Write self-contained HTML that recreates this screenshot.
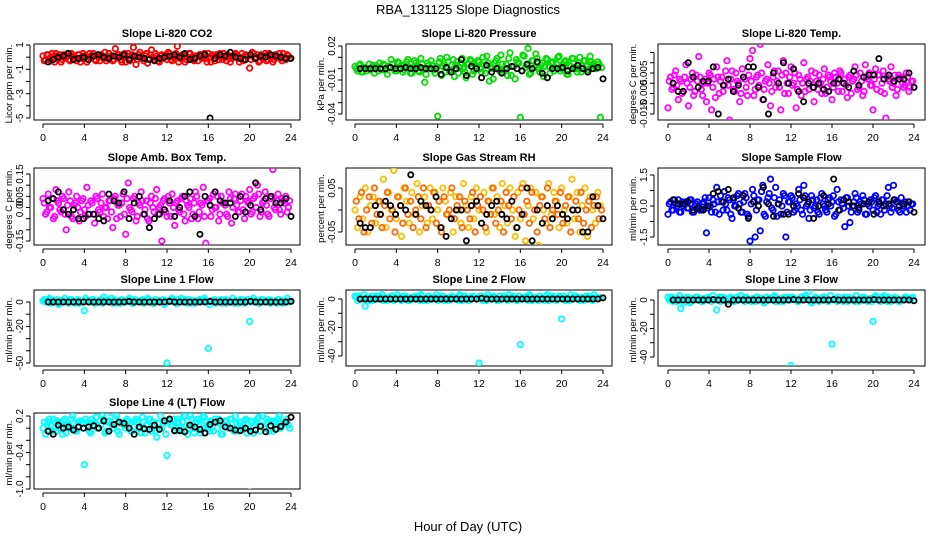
<!DOCTYPE html>
<html><head><meta charset="utf-8"><style>
html,body{margin:0;padding:0;background:#fff}
svg{display:block;font-family:"Liberation Sans",Arial,sans-serif}
</style></head><body>
<svg id="chart" width="936" height="540" viewBox="0 0 936 540" xmlns="http://www.w3.org/2000/svg">
<text x="468" y="14" font-size="13" text-anchor="middle">RBA_131125  Slope Diagnostics</text>
<text x="468" y="531" font-size="13" text-anchor="middle">Hour of Day (UTC)</text>
</svg>
<script>
const xTicks=[0,4,8,12,16,20,24];
const titles=["Slope Li-820 CO2","Slope Li-820 Pressure","Slope Li-820 Temp.","Slope Amb. Box Temp.","Slope Gas Stream RH","Slope Sample Flow","Slope Line 1 Flow","Slope Line 2 Flow","Slope Line 3 Flow","Slope Line 4 (LT) Flow"];
const yTitles=["Licor ppm per min.","kPa per min.","degrees C per min.","degrees C per min.","percent per min.","ml/min per min.","ml/min per min.","ml/min per min.","ml/min per min.","ml/min per min."];
const yTickVals=[[1,0,-1,-2,-3,-4,-5],[0.02,0.01,0,-0.01,-0.02,-0.03,-0.04],[0.015,0.01,0.005,0,-0.005,-0.01,-0.015],[0.15,0.1,0.05,0,-0.05,-0.1,-0.15],[0.05,0,-0.05],[1.5,0.75,0,-0.75,-1.5],[0,-10,-20,-30,-40,-50],[0,-10,-20,-30,-40],[0,-10,-20,-30,-40],[0.2,0,-0.2,-0.4,-0.6,-0.8,-1.0]];
const yTickLabels=[["1","","-1","","-3","","-5"],["0.02","","","-0.01","","","-0.04"],["","","0.005","","-0.005","","-0.015"],["0.15","","0.05","0.00","","","-0.15"],["0.05","","-0.05"],["1.5","","0.0","","-1.5"],["0","","-20","","","-50"],["0","","-20","","-40"],["0","","-20","","-40"],["0.2","","","-0.4","","","-1.0"]];

const c1=[0.1,-0.2,0.2,-0.3,0.0,0.3,-0.1,-0.4,0.2,0.1,-0.2,0.3,0.0,-0.3,0.2,-0.1,0.1,-0.4,0.3,0.0,-0.2,0.2,-0.3,0.1,0.4,-0.1,0.0,-0.3,0.7,0.2,-0.2,0.1,-0.4,0.3,-0.1,0.8,-0.6,0.2,0.0,-0.3,0.3,-0.1,0.6,-0.2,0.1,-0.4,0.2,0.0,-0.2,0.3,-0.3,0.1,0.9,-0.1,0.2,-0.4,0.0,0.3,-0.2,0.1,-0.3,0.2,0.0,-0.1,0.3,-0.4,0.1,0.2,-0.2,0.0,0.3,-0.3,0.1,-0.1,0.2,0.0,-0.4,0.3,-0.2,0.1,-0.9,0.4,-0.1,0.2,-0.3,0.0,0.3,-0.2,0.1,-0.4,0.2,0.0,-0.1,0.3,-0.2,0.1];
const c1b=[-0.3,0.2,-0.1,0.3,-0.4,0.1,0.2,-0.2,0.0,0.3,-0.3,0.1,-0.1,0.2,-0.4,0.3,0.0,-0.2,0.1,0.3,-0.3,0.0,0.2,-0.1,-0.3,0.3,0.1,-0.2,0.0,0.2,-0.4,0.3,0.1,-0.3,0.2,0.0,-0.2,0.4,-0.1,0.1,-0.5,0.2,0.0,0.3,-0.3,0.1,-0.1,0.2,0.4,-0.2,0.0,0.3,-0.4,0.1,0.2,-0.2,0.3,0.0,-0.3,0.1,0.2,-0.1,0.3,-0.4,0.0,0.2,-0.3,0.1,0.3,-0.2,0.0,0.2,-0.4,0.1,0.3,-0.1,0.0,-0.3,0.2,0.1,-0.2,0.3,0.0,-0.4,0.2,0.1,-0.3,0.3,0.0,-0.2,0.1,0.3,-0.3,0.0,0.2,-0.1];
const b1=[-0.4,-0.2,0.0,0.1,0.3,-0.2,-0.1,0.0,-0.2,0.1,0.2,0.0,-0.1,0.1,0.0,0.2,-0.2,0.1,0.0,-0.1,-0.2,-0.3,-0.1,0.0,0.1,0.2,0.0,0.3,-0.2,-0.1,0.1,0.2,-5.0,-0.1,0.2,0.1,0.4,0.0,-0.1,-0.2,0.2,-0.1,0.1,0.0,0.2,0.1,0.0,-0.1,-0.1];
const c2=[0.002,-0.002,0.004,-0.003,0.001,0.0,-0.001,0.003,0.002,-0.002,0.0,0.004,-0.001,0.002,0.008,0.0,-0.002,0.005,0.003,-0.001,0.006,0.001,-0.004,0.007,0.002,-0.003,0.004,-0.012,0.005,0.0,0.003,-0.004,-0.042,0.009,0.002,-0.003,0.006,-0.001,0.008,0.003,-0.004,0.005,0.0,-0.008,0.004,0.007,-0.002,0.001,0.006,-0.003,0.003,0.011,-0.011,0.0,0.005,0.009,-0.002,0.004,0.0,-0.006,0.014,0.002,-0.009,0.006,-0.043,0.012,0.001,0.018,-0.004,0.007,0.013,0.0,0.003,-0.007,0.009,0.002,0.005,-0.002,0.004,0.011,0.0,0.006,-0.005,0.003,0.009,0.001,-0.003,0.010,0.002,0.007,-0.001,0.011,0.004,0.002,0.006,-0.043];
const c2b=[0.0,0.003,-0.003,0.001,-0.002,0.004,0.0,-0.004,0.002,0.005,-0.001,0.003,-0.005,0.001,0.004,-0.002,0.006,0.0,-0.003,0.002,0.008,-0.004,0.001,0.005,-0.002,0.009,0.0,-0.005,0.003,0.007,-0.001,0.002,0.006,-0.006,0.004,0.010,-0.002,0.003,-0.007,0.006,0.001,0.009,-0.003,0.004,0.008,-0.005,0.002,0.007,0.0,0.010,-0.004,0.005,0.002,-0.009,0.007,0.001,0.012,-0.003,0.004,0.009,-0.006,0.002,0.008,0.005,-0.002,0.011,0.003,-0.005,0.007,0.001,0.009,-0.003,0.005,0.002,0.008,-0.004,0.006,0.001,0.010,-0.002,0.004,0.007,-0.005,0.002,0.009,0.0,0.005,-0.003,0.007,0.002,-0.001,0.006,0.003,0.0,0.004,0.001];
const b2=[0,0,0,0,0,0,0.001,0,0,0.001,0,0,0.001,0,0,0,-0.005,0.001,-0.003,0,0.008,-0.006,0.002,0,-0.008,0.003,-0.003,0,-0.004,0,0.002,0,-0.002,0.004,0,0.006,-0.004,-0.008,0,0,0.001,-0.002,0,0.003,0,-0.003,0,0.001,-0.009];
const c3=[-0.012,0.003,-0.002,0.006,-0.008,0.001,-0.004,0.009,-0.011,0.002,-0.006,0.004,0.013,-0.003,0.0,-0.009,0.005,-0.013,0.002,0.008,-0.005,0.003,-0.001,0.011,-0.018,0.006,-0.004,0.001,-0.009,0.007,0.002,-0.006,0.012,0.016,-0.003,0.004,0.019,-0.008,0.001,0.009,-0.011,0.003,-0.002,0.006,-0.013,0.011,0.005,-0.005,0.008,0.0,-0.012,0.004,-0.006,0.010,0.002,-0.003,0.006,-0.009,0.001,0.004,-0.005,0.007,-0.002,0.003,-0.008,0.005,0.0,0.006,-0.004,0.002,-0.007,0.004,0.001,0.008,-0.003,0.005,-0.006,0.009,0.002,-0.001,-0.013,0.007,0.004,-0.004,0.006,-0.017,0.002,0.008,0.0,-0.006,0.004,0.003,-0.002,0.005,-0.004,0.001];
const c3b=[0.001,-0.003,0.004,-0.001,0.002,-0.005,0.003,0.0,-0.002,0.005,-0.004,0.001,0.003,-0.006,0.002,0.0,0.004,-0.002,-0.007,0.003,0.001,-0.004,0.006,-0.001,0.002,-0.003,0.005,0.0,-0.005,0.003,-0.002,0.004,0.001,-0.006,0.003,-0.001,0.005,-0.003,0.002,0.0,-0.004,0.006,0.001,-0.002,0.004,-0.005,0.0,0.003,-0.001,0.005,-0.003,0.002,0.0,-0.004,0.003,0.001,-0.002,0.005,-0.003,0.0,0.002,-0.005,0.004,0.001,-0.002,0.003,-0.004,0.005,0.0,-0.001,0.003,-0.005,0.002,0.004,-0.002,0.001,-0.004,0.003,0.005,-0.001,0.002,-0.003,0.004,0.0,-0.005,0.003,0.001,-0.002,0.004,-0.003,0.002,0.0,-0.001,0.003,-0.002,0.001];
const b3=[0,-0.004,-0.004,0.010,0.003,-0.002,0.001,0.001,0.008,-0.015,-0.001,0.002,-0.004,-0.001,0.003,0.008,0.008,-0.002,-0.008,-0.015,0.005,0.0,0.010,0.0,0.007,-0.004,-0.009,0.0,-0.002,0.0,-0.003,-0.004,0.0,0.002,0.0,-0.002,0.006,-0.001,0.003,0.004,0.004,0.012,0.002,0.004,0.001,0.002,0.002,0.005,-0.002];
const c4=[0.04,-0.03,0.06,0.0,-0.05,0.08,0.02,-0.02,0.04,-0.10,0.07,-0.04,0.01,0.05,-0.06,0.03,-0.01,0.09,-0.03,0.02,-0.07,0.04,-0.02,0.06,0.0,-0.05,0.03,-0.09,0.05,0.01,-0.04,0.06,-0.12,0.11,-0.01,0.04,-0.06,0.02,0.07,-0.03,0.03,-0.06,0.05,-0.02,0.08,0.0,-0.15,0.04,-0.04,0.02,0.06,-0.08,0.03,-0.02,0.05,-0.06,0.01,0.04,-0.03,0.07,-0.05,0.02,0.09,-0.16,0.03,-0.04,0.06,0.0,-0.06,0.05,0.02,-0.03,0.07,-0.07,0.04,0.01,-0.02,0.06,-0.05,0.03,0.08,-0.02,0.05,0.10,-0.04,0.02,0.07,-0.03,0.04,0.17,-0.01,0.06,-0.03,0.03,0.05,0.0];
const c4b=[0.02,-0.02,0.0,0.04,-0.04,0.03,-0.01,0.05,-0.03,0.01,0.03,-0.05,0.02,0.0,-0.02,0.04,-0.04,0.01,0.03,-0.03,0.05,-0.01,0.02,-0.04,0.0,0.03,-0.02,0.04,-0.05,0.01,0.02,-0.03,0.04,0.0,-0.02,0.05,-0.04,0.01,0.03,-0.01,-0.05,0.02,0.0,0.04,-0.03,0.01,0.03,-0.02,0.05,-0.04,0.0,0.02,-0.01,0.04,-0.03,0.03,0.0,-0.05,0.02,0.05,-0.02,0.01,-0.04,0.03,0.04,-0.01,0.0,0.05,-0.03,0.02,0.01,-0.04,0.04,0.0,0.06,-0.02,0.03,-0.01,0.05,0.02,-0.03,0.04,0.0,0.06,-0.02,0.03,0.01,-0.04,0.05,0.0,0.03,-0.01,0.04,0.02,-0.02,0.03];
const b4=[0.03,0.04,0.07,-0.01,-0.03,-0.01,-0.05,-0.05,-0.03,-0.03,-0.05,-0.06,0.06,0.03,0.02,0.07,-0.05,0.02,0.05,-0.03,-0.09,-0.05,-0.03,-0.01,0.03,-0.04,0.00,0.05,0.07,-0.04,-0.12,0.05,0.01,0.07,0.03,0.02,0.02,-0.04,0.05,-0.02,0.01,0.11,-0.01,0.04,0.05,0.02,0.02,0.04,-0.04];
const c5=[0.0,-0.04,0.03,-0.02,0.05,-0.05,0.01,0.03,-0.03,0.02,-0.01,0.07,-0.04,0.04,0.0,0.09,-0.02,0.03,-0.06,0.05,0.02,-0.03,0.04,-0.01,0.06,-0.05,0.01,0.03,-0.03,0.05,-0.02,0.04,0.0,-0.04,0.05,0.02,-0.01,0.04,-0.05,0.03,0.0,-0.03,0.06,0.01,-0.04,0.03,-0.02,0.05,0.0,-0.03,0.04,-0.05,0.02,0.05,-0.01,0.03,-0.04,0.06,0.01,-0.03,0.05,0.0,-0.06,0.04,-0.02,0.06,-0.07,0.01,0.05,-0.02,0.04,-0.08,0.03,0.0,-0.03,0.06,-0.01,0.04,0.02,-0.04,0.05,0.0,-0.03,0.03,0.07,-0.02,0.04,-0.05,0.01,0.05,-0.06,0.03,0.0,-0.03,0.04,0.01];
const c5b=[0.02,-0.02,0.04,-0.05,0.0,0.03,-0.03,0.05,-0.01,0.02,-0.04,0.01,0.04,-0.02,0.0,-0.05,0.03,0.01,-0.03,0.05,-0.01,0.02,-0.04,0.0,0.03,-0.02,0.05,-0.04,0.01,0.0,0.04,-0.03,0.02,-0.05,0.03,-0.01,0.0,0.05,-0.02,0.01,0.03,-0.04,0.02,0.0,-0.02,0.04,-0.05,0.01,0.03,0.0,-0.04,0.02,-0.01,0.05,-0.03,0.0,0.02,-0.05,0.04,0.01,-0.02,0.03,-0.04,0.0,0.05,-0.01,0.02,-0.03,0.04,0.0,-0.05,0.01,0.03,-0.02,0.05,-0.04,0.0,0.02,-0.01,0.04,-0.03,0.01,0.03,-0.05,0.0,0.02,-0.02,0.04,-0.03,0.0,0.02,-0.04,0.01,0.03,-0.02,0.0];
const b5=[-0.03,-0.04,-0.04,0.01,-0.01,0.02,0.01,-0.01,0.01,0.00,0.08,-0.01,0.02,0.01,0.00,0.03,-0.04,-0.06,-0.02,0.00,0.00,-0.07,0.01,0.02,-0.03,-0.01,0.01,0.02,-0.01,-0.02,0.02,-0.04,-0.01,0.05,-0.07,0.0,-0.03,0.01,-0.02,0.01,-0.01,-0.02,0.00,0.00,-0.05,-0.05,0.03,0.01,-0.02];
const c6=[-0.4,0.2,-0.2,0.1,0.3,-0.3,0.0,0.2,-0.1,0.3,-0.3,0.1,0.0,-0.2,0.2,-1.3,0.4,-0.3,0.1,0.9,-0.4,0.2,0.7,-0.2,0.3,-0.6,0.0,0.5,0.1,-0.3,0.6,-0.4,-1.7,0.8,-1.5,0.3,-1.2,1.0,-0.5,0.4,1.3,-0.2,0.9,0.1,-0.4,0.6,-1.5,0.2,0.5,-0.3,0.1,0.8,-0.2,1.0,0.0,-0.6,0.5,-0.1,0.3,-0.4,0.6,0.0,-0.3,0.4,0.2,-0.5,0.8,-0.2,0.1,-1.0,0.4,-0.8,0.0,0.6,-0.3,0.2,0.5,-0.4,0.1,0.3,-0.2,0.5,0.0,-0.4,0.3,0.1,0.9,-0.3,1.0,0.2,-0.2,0.4,0.0,-0.3,0.2,0.1];
const c6b=[0.1,-0.2,0.3,0.0,-0.3,0.2,0.1,-0.1,0.3,-0.3,0.0,0.2,-0.2,0.1,0.4,-0.1,0.0,0.3,-0.3,0.2,0.5,-0.2,0.1,0.4,-0.4,0.3,0.0,0.6,-0.3,0.2,0.4,-0.5,0.1,0.5,-0.2,0.3,0.7,-0.4,0.2,0.6,-0.1,0.4,-0.5,0.3,0.0,0.5,-0.3,0.2,0.4,-0.2,0.0,0.3,-0.4,0.5,0.1,-0.2,0.3,0.0,-0.3,0.4,0.1,-0.2,0.3,0.0,0.5,-0.4,0.2,0.3,-0.1,0.4,0.0,-0.3,0.2,0.4,-0.2,0.1,0.3,-0.4,0.0,0.2,0.4,-0.3,0.1,0.3,-0.2,0.5,0.0,-0.1,0.3,0.2,-0.3,0.1,0.2,0.0,-0.2,0.1];
const b6=[0.3,0.1,0.1,0.2,-0.2,-0.1,-0.2,0.0,0.6,0.7,0.2,0.8,0.4,-0.1,0.5,-0.6,0.2,0.0,0.9,0.1,-0.5,0.1,-0.4,-0.4,0.0,0.6,0.4,0.2,-0.6,0.0,0.5,0.1,1.3,-0.2,0.3,0.2,0.0,-0.1,0.1,0.2,-0.4,0.2,0.0,0.1,0.3,0.0,0.1,0.2,-0.3];
const c7=[1,0,2,-1,1,0,-2,1,0,1,-1,2,0,1,-1,0,-7,1,0,2,-1,0,1,-1,1,2,0,-1,1,0,-1,1,0,2,0,-1,1,0,1,-1,0,2,1,-1,0,1,0,-2,-50,1,3,0,-1,1,0,2,-1,0,1,-1,1,0,2,1,-38,1,0,-1,1,2,0,-1,1,0,-1,1,0,2,-1,1,-16,1,0,1,-1,2,0,1,-1,0,1,2,0,-1,1,0];
const c7b=[2,1,3,0,1,2,-1,1,3,0,2,1,-1,2,0,1,3,1,0,2,-1,1,2,4,1,0,3,2,-1,1,2,0,1,3,-1,2,1,0,2,1,3,0,-1,2,1,0,2,1,0,2,1,-1,2,3,0,1,2,-1,1,0,2,1,3,0,-2,1,2,0,1,-1,2,1,0,3,1,-1,2,0,1,2,0,3,1,-1,2,0,1,2,1,0,-1,2,1,0,3,1];
const b7=[0,0,0,0,0,0,0,0,0,0,0,0,0,0,0,0,0.5,0,0,0,0,0,0,0,0.5,0,0,0,0,0,0,0,0.5,0,0,0,0,0,0,0,0.5,0,0,0,0,0,0,0,0.5];
const c8=[2,-1,1,0,-5,1,0,-1,2,0,1,-1,0,1,2,-1,0,1,-1,2,0,-1,1,0,1,-1,2,0,-1,1,0,1,-1,0,2,1,-1,0,1,0,-1,2,0,1,-1,0,1,0,-45,2,0,-1,1,0,1,-1,2,0,1,-1,0,2,1,-1,-32,0,1,-1,2,0,1,-1,0,1,2,-1,0,1,-1,2,-14,0,1,-1,0,2,1,-1,0,1,2,0,-1,1,0,1];
const c8b=[1,2,0,3,1,-1,2,1,0,2,3,1,-1,0,2,1,3,0,1,2,-1,1,0,2,1,3,-1,0,2,1,0,3,1,2,-1,0,1,2,0,1,3,-1,2,0,1,2,1,0,2,-1,1,3,0,2,1,-1,0,2,1,3,0,1,-1,2,1,0,2,3,-1,1,0,2,1,-1,3,0,2,1,0,1,2,-1,0,3,1,2,0,1,-1,2,0,1,3,1];
const b8=[0,0,0,0,0,0,0,0,0,0,0,0,0,0,0,0,0,0,0,0,0,0,0,0,0.5,0,0,0,0,0,0,0,0,0,0,0,0,0,0,0,0,0,0,0,0,0,0,0,0.8];
const c9=[2,1,-1,0,1,-6,-2,1,0,-1,1,2,0,-1,1,0,1,-1,0,-7,2,1,0,-1,1,0,-1,2,1,0,-1,1,0,1,-1,2,0,1,-1,0,1,2,-1,0,1,-1,0,2,-46,1,0,-1,2,0,1,6,-2,0,1,-1,0,2,1,0,-31,1,-1,0,1,2,-1,0,1,-1,0,1,2,0,-1,1,-15,3,0,-1,1,0,2,-1,0,1,-1,0,1,2,0,1];
const c9b=[0,2,1,-1,3,1,0,2,-2,1,0,2,1,-1,0,2,1,3,0,1,-1,2,0,1,2,-1,1,0,3,1,2,0,-1,1,2,0,1,-2,2,1,0,3,1,-1,0,2,1,0,2,1,-1,0,2,3,1,0,-1,2,1,0,2,1,-1,3,0,1,2,0,-1,1,2,0,1,3,-1,0,2,1,0,-1,2,1,0,2,3,-1,1,0,2,1,-1,0,2,1,0,2];
const b9=[0,0,0,0,0,0,0,0,0.3,0,0,-3,0,0,0,0,0,0,0,0,0,0,0,0,0.3,0,0,0,0,0,0,0,0.3,0,0,0,0,0,0,0,0.3,0,0,0,0,0,0,0,-0.5];
const c10=[0.0,-0.1,0.1,0.05,0.15,-0.05,0.1,0.0,0.12,-0.08,0.05,0.15,0.0,-0.05,0.1,0.08,-0.6,0.1,-0.05,0.15,0.05,0.0,0.12,0.2,-0.08,0.1,0.25,0.0,0.15,-0.05,0.08,0.1,0.0,0.12,-0.05,0.1,0.15,0.0,-0.08,0.1,0.05,0.15,-0.05,0.1,-0.15,0.08,0.0,0.12,-0.45,0.1,0.05,-0.05,0.15,0.0,0.1,0.2,-0.1,0.2,0.05,0.0,0.15,-0.08,0.2,0.1,0.0,0.12,-0.05,0.1,0.15,-0.1,0.05,0.1,0.0,0.15,-0.05,0.08,0.1,0.0,0.12,-0.08,-1.05,0.1,0.05,0.15,-0.05,0.2,0.0,0.1,0.12,-0.05,0.1,0.15,0.0,0.08,0.1,0.05];
const c10b=[0.1,0.05,0.15,-0.05,0.0,0.12,0.08,-0.1,0.15,0.05,0.0,0.2,-0.05,0.1,0.12,0.0,0.15,0.05,-0.08,0.1,0.18,0.0,0.05,0.15,-0.05,0.12,0.08,0.0,0.2,-0.1,0.1,0.05,0.15,0.0,-0.05,0.12,0.1,0.0,0.18,-0.08,0.05,0.15,0.1,-0.05,0.0,0.2,0.08,-0.1,0.12,0.05,0.15,0.0,0.1,-0.05,0.2,0.05,0.0,0.15,-0.08,0.1,0.12,0.0,0.18,0.05,-0.05,0.1,0.15,0.0,0.08,-0.1,0.12,0.05,0.15,0.0,0.2,-0.05,0.1,0.05,0.15,0.0,0.12,-0.08,0.1,0.18,0.05,0.0,0.15,-0.05,0.1,0.12,0.0,0.2,0.05,0.1,0.15,0.0];
const b10=[-0.05,-0.1,0.05,0.0,0.02,-0.03,0.02,0.0,0.02,0.04,0.0,0.12,-0.05,0.06,0.1,0.08,0.0,-0.1,0.02,-0.01,-0.02,0.05,-0.02,0.12,0.15,-0.04,-0.04,-0.06,0.05,0.02,-0.02,-0.08,0.06,0.1,0.12,0.02,0.0,-0.03,-0.04,0.0,-0.05,-0.03,0.03,-0.06,0.04,-0.02,0.03,0.1,0.18];
const colorSeries=[c1,c2,c3,c4,c5,c6,c7,c8,c9,c10];
const colorSeriesB=[c1b,c2b,c3b,c4b,c5b,c6b,c7b,c8b,c9b,c10b];
const blackSeries=[b1,b2,b3,b4,b5,b6,b7,b8,b9,b10];
const seriesColors=["#ff0000","#00dd00","#ff00ff","#ff00ff","#ffbb00","#0000ff","#00ffff","#00ffff","#00ffff","#00ffff"];
const seriesColorsB=["#ff0000","#00dd00","#ff00ff","#ff00ff","#ff6600","#0000ff","#00ffff","#00ffff","#00ffff","#00ffff"];

// layout (geometry, not data)
const colBox=[[34,300],[346,612],[658,925]];
const colX=[[43,291],[355,603],[668,914]];
const rowBox=[[44,120],[168,245],[290,366],[413,489]];
const yCal=[[1,45,-5,118],[0.02,46,-0.04,114],[0.005,73,-0.015,114],[0.15,174,-0.15,241],[0.05,188,-0.05,232],[1.5,175,-1.5,237],[0,302,-50,363],[0,299,-40,356],[0,300,-40,357],[0.2,416,-1.0,489]];

const NS="http://www.w3.org/2000/svg";
const svg=document.getElementById('chart');
function mk(tag,attrs,parent){const e=document.createElementNS(NS,tag);for(const k in attrs)e.setAttribute(k,attrs[k]);(parent||svg).appendChild(e);return e;}

for(let p=0;p<10;p++){
  const col=p%3,row=Math.floor(p/3);
  const [bx0,bx1]=colBox[col],[by0,by1]=rowBox[row];
  const [x0,x24]=colX[col];
  const cal=yCal[p];
  const xs=h=>x0+(x24-x0)*h/24;
  const ys=v=>cal[1]+(cal[3]-cal[1])*(v-cal[0])/(cal[2]-cal[0]);
  const g=mk('g',{});
  
  
  const clip=mk('clipPath',{id:'clip'+p},g);
  mk('rect',{x:bx0,y:by0,width:bx1-bx0,height:by1-by0},clip);
  const t=mk('text',{x:(bx0+bx1)/2,y:by0-7,'font-size':11,'font-weight':'bold','text-anchor':'middle'},g);
  t.textContent=titles[p];
  
  
  const yt=mk('text',{x:0,y:0,'font-size':9.5,'text-anchor':'middle',transform:`translate(${bx0-22},${(by0+by1)/2+2}) rotate(-90)`},g);
  yt.textContent=yTitles[p];
  
  
  const xa=mk('g',{},g);
  
  
  mk('line',{x1:x0,x2:x24,y1:by1+4,y2:by1+4,stroke:'#000','stroke-width':1},xa);
  xTicks.forEach(h=>{
    mk('line',{x1:xs(h),x2:xs(h),y1:by1+4,y2:by1+8,stroke:'#000'},xa);
    const tl=mk('text',{x:xs(h),y:by1+21,'font-size':10.5,'text-anchor':'middle'},xa);
    tl.textContent=h;
    
    
  });
  const ya=mk('g',{},g);
  
  
  const tv=yTickVals[p];
  mk('line',{x1:bx0-4,x2:bx0-4,y1:ys(tv[0]),y2:ys(tv[tv.length-1]),stroke:'#000'},ya);
  tv.forEach((v,i)=>{
    mk('line',{x1:bx0-8,x2:bx0-4,y1:ys(v),y2:ys(v),stroke:'#000'},ya);
    const lab=yTickLabels[p][i];
    if(lab){
      const tl=mk('text',{x:0,y:0,'font-size':10,'text-anchor':'middle',transform:`translate(${bx0-11},${ys(v)}) rotate(-90)`},ya);
      tl.textContent=lab;
      
      
    }
  });
  mk('rect',{x:bx0,y:by0,width:bx1-bx0,height:by1-by0,fill:'none',stroke:'#000','stroke-width':1},g);
  const pts=mk('g',{'clip-path':`url(#clip${p})`},g);
  colorSeries[p].forEach((v,i)=>{
    const c=mk('circle',{cx:xs(i*0.25),cy:ys(v),r:2.7,fill:'none',stroke:seriesColors[p],'stroke-width':1.8},pts);
    
    
  });
  colorSeriesB[p].forEach((v,i)=>{
    const c=mk('circle',{cx:xs(0.125+i*0.25),cy:ys(v),r:2.7,fill:'none',stroke:seriesColorsB[p],'stroke-width':1.8},pts);
    
    
  });
  blackSeries[p].forEach((v,i)=>{
    const c=mk('circle',{cx:xs(0.5+i*23.5/48),cy:ys(v),r:2.6,fill:'none',stroke:'#000','stroke-width':1.8},pts);
    
    
  });
}
</script>
</body></html>
